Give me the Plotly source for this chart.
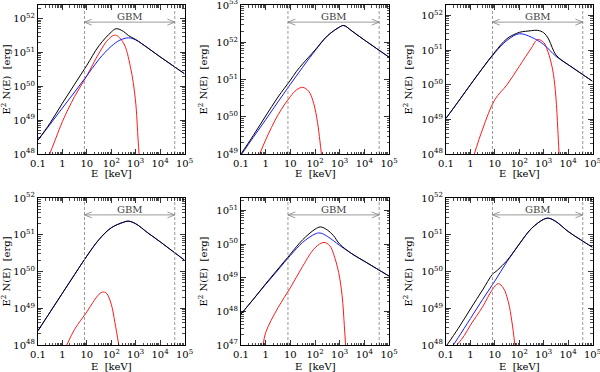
import math
import plotly.graph_objects as go

# ---------------- data (log10 E [keV], log10 E^2 N(E) [erg]) ----------------
GBM_LO = 8.0      # keV
GBM_HI = 4.0e4    # keV

X_TICKVALS = [0.1, 1, 10, 100, 1e3, 1e4, 1e5]
X_TICKTEXT = ["0.1", "1", "10", "10<sup>2</sup>", "10<sup>3</sup>", "10<sup>4</sup>", "10<sup>5</sup>"]

Y_RANGES = [(48, 52.4), (49, 53), (48, 52.3), (48, 52), (47, 51.37), (48, 52)]

# Panel 1
P1_BLUE_LOGE = [-1, -0.5, 0, 0.5, 1, 1.5, 2, 2.35, 2.7, 3, 3.5, 4, 4.5, 5]
P1_BLUE_LOGY = [48.41, 48.88, 49.36, 49.83, 50.31, 50.80, 51.18, 51.36, 51.43, 51.37, 51.13, 50.87, 50.62, 50.37]
P1_RED_LOGE = [-0.52, -0.25, 0, 0.5, 1, 1.5, 1.9, 2.17, 2.5, 2.78, 2.99, 3.1, 3.14]
P1_RED_LOGY = [48.0, 48.5, 48.96, 49.70, 50.31, 50.98, 51.40, 51.51, 51.28, 50.59, 49.6, 48.41, 48.0]
P1_BLACK_LOGE = [-1, -0.5, 0, 0.5, 1, 1.5, 2, 2.2, 2.5, 2.7, 3, 3.5, 4, 4.5, 5]
P1_BLACK_LOGY = [48.41, 48.92, 49.50, 50.06, 50.62, 51.20, 51.60, 51.70, 51.62, 51.50, 51.38, 51.13, 50.87, 50.62, 50.37]

# Panel 2
P2_BLUE_LOGE = [-1, -0.5, 0, 0.5, 1, 1.5, 2, 2.5, 3, 3.17, 3.5, 4, 4.5, 5]
P2_BLUE_LOGY = [48.97, 49.45, 49.92, 50.40, 50.87, 51.33, 51.77, 52.17, 52.41, 52.45, 52.30, 52.06, 51.83, 51.60]
P2_RED_LOGE = [-0.24, 0, 0.5, 1.0, 1.25, 1.5, 1.75, 1.95, 2.1, 2.2, 2.26]
P2_RED_LOGY = [49.0, 49.38, 50.05, 50.54, 50.72, 50.79, 50.68, 50.35, 49.85, 49.35, 49.0]
P2_BLACK_LOGE = [-1, -0.5, 0, 0.5, 1, 1.25, 1.5, 2, 2.5, 3, 3.17, 3.5, 4, 4.5, 5]
P2_BLACK_LOGY = [49.0, 49.50, 50.02, 50.53, 50.98, 51.22, 51.42, 51.79, 52.17, 52.41, 52.45, 52.30, 52.06, 51.83, 51.60]

# Panel 3
P3_BLUE_LOGE = [-1, -0.5, 0, 0.5, 1, 1.5, 2, 2.5, 3, 3.5, 4, 4.5, 5]
P3_BLUE_LOGY = [49.03, 49.51, 50.0, 50.48, 50.92, 51.28, 51.47, 51.37, 51.16, 50.82, 50.58, 50.34, 50.10]
P3_RED_LOGE = [0.16, 0.5, 1.0, 1.5, 2.0, 2.5, 2.75, 3.0, 3.15, 3.3, 3.4, 3.5, 3.58, 3.63]
P3_RED_LOGY = [48.0, 48.72, 49.57, 50.0, 50.53, 51.06, 51.30, 51.22, 51.0, 50.65, 50.3, 49.65, 48.7, 48.0]
P3_BLACK_LOGE = [-1, -0.5, 0, 0.5, 1, 1.5, 2, 2.25, 2.5, 2.75, 3.0, 3.2, 3.35, 3.5, 3.75, 4, 4.5, 5]
P3_BLACK_LOGY = [49.03, 49.51, 50.0, 50.48, 50.94, 51.33, 51.51, 51.54, 51.56, 51.57, 51.50, 51.32, 51.07, 50.86, 50.70, 50.58, 50.34, 50.10]

# Panel 4
P4_BLUE_LOGE = [-1, -0.5, 0, 0.5, 1, 1.5, 2, 2.5, 2.7, 3, 3.5, 4, 4.5, 5]
P4_BLUE_LOGY = [48.39, 48.90, 49.41, 49.92, 50.42, 50.87, 51.19, 51.34, 51.37, 51.30, 51.05, 50.81, 50.56, 50.31]
P4_RED_LOGE = [0.18, 0.5, 1.0, 1.25, 1.5, 1.65, 1.8, 2.0, 2.15, 2.31]
P4_RED_LOGY = [48.0, 48.43, 48.90, 49.16, 49.38, 49.44, 49.41, 49.11, 48.61, 48.0]
P4_BLACK_LOGE = [-1, -0.5, 0, 0.5, 1, 1.5, 2, 2.5, 2.7, 3, 3.5, 4, 4.5, 5]
P4_BLACK_LOGY = [48.39, 48.90, 49.41, 49.92, 50.42, 50.87, 51.19, 51.34, 51.37, 51.30, 51.05, 50.81, 50.56, 50.31]

# Panel 5
P5_BLUE_LOGE = [-1, -0.5, 0, 0.5, 1, 1.5, 2, 2.2, 2.5, 3, 3.5, 4, 4.5, 5]
P5_BLUE_LOGY = [47.92, 48.36, 48.80, 49.23, 49.66, 50.05, 50.30, 50.33, 50.23, 49.96, 49.71, 49.49, 49.27, 49.05]
P5_RED_LOGE = [-0.1, 0, 0.5, 1, 1.5, 2, 2.36, 2.6, 2.76, 2.96, 3.1, 3.19, 3.24]
P5_RED_LOGY = [47.0, 47.37, 48.11, 48.70, 49.34, 49.89, 50.05, 49.95, 49.69, 49.15, 48.46, 47.57, 47.0]
P5_BLACK_LOGE = [-1, -0.5, 0, 0.5, 1, 1.5, 2, 2.22, 2.5, 2.75, 3, 3.5, 4, 4.5, 5]
P5_BLACK_LOGY = [47.92, 48.36, 48.82, 49.26, 49.70, 50.13, 50.44, 50.51, 50.42, 50.25, 50.0, 49.71, 49.49, 49.27, 49.05]

# Panel 6
P6_BLUE_LOGE = [-0.7, -0.5, 0, 0.5, 1, 1.5, 2, 2.5, 3, 3.2, 3.5, 4, 4.5, 5]
P6_BLUE_LOGY = [48.0, 48.2, 48.72, 49.24, 49.74, 50.27, 50.74, 51.17, 51.42, 51.45, 51.36, 51.09, 50.87, 50.66]
P6_RED_LOGE = [-0.55, -0.25, 0, 0.5, 0.9, 1.14, 1.35, 1.55, 1.7, 1.82]
P6_RED_LOGY = [48.0, 48.26, 48.54, 49.04, 49.51, 49.67, 49.55, 49.18, 48.63, 48.0]
P6_BLACK_LOGE = [-0.96, -0.5, 0, 0.5, 0.9, 1.1, 1.3, 1.5, 1.7, 2, 2.5, 3, 3.2, 3.5, 4, 4.5, 5]
P6_BLACK_LOGY = [48.0, 48.45, 48.98, 49.50, 49.92, 50.03, 50.16, 50.30, 50.47, 50.75, 51.17, 51.42, 51.45, 51.36, 51.09, 50.87, 50.66]

PANELS = [
    (P1_RED_LOGE, P1_RED_LOGY, P1_BLUE_LOGE, P1_BLUE_LOGY, P1_BLACK_LOGE, P1_BLACK_LOGY),
    (P2_RED_LOGE, P2_RED_LOGY, P2_BLUE_LOGE, P2_BLUE_LOGY, P2_BLACK_LOGE, P2_BLACK_LOGY),
    (P3_RED_LOGE, P3_RED_LOGY, P3_BLUE_LOGE, P3_BLUE_LOGY, P3_BLACK_LOGE, P3_BLACK_LOGY),
    (P4_RED_LOGE, P4_RED_LOGY, P4_BLUE_LOGE, P4_BLUE_LOGY, P4_BLACK_LOGE, P4_BLACK_LOGY),
    (P5_RED_LOGE, P5_RED_LOGY, P5_BLUE_LOGE, P5_BLUE_LOGY, P5_BLACK_LOGE, P5_BLACK_LOGY),
    (P6_RED_LOGE, P6_RED_LOGY, P6_BLUE_LOGE, P6_BLUE_LOGY, P6_BLACK_LOGE, P6_BLACK_LOGY),
]

# ---------------- layout geometry ----------------
W, H = 600, 372
COL_PX = [(38, 184.5), (241, 389), (446, 592.5)]
ROW_PX = [(5, 154), (198, 345)]
XTITLE_SHIFT = [-19, -21]

FONT = "DejaVu Serif"
fig = go.Figure()


def tp(v):
    return [10.0 ** float(a) for a in v]


minor_x = [float(k) * 10.0 ** n for n in range(-1, 5) for k in range(2, 10)]

for i, (rx, ry, bx, by, kx, ky) in enumerate(PANELS):
    n = i + 1
    xa = "x" if n == 1 else f"x{n}"
    ya = "y" if n == 1 else f"y{n}"
    lo, hi = Y_RANGES[i]
    r, c = divmod(i, 3)
    for ex, ey, col, w in [(rx, ry, "#ff1a1a", 1.0), (bx, by, "#1a1aff", 1.0), (kx, ky, "black", 1.0)]:
        fig.add_trace(go.Scatter(x=tp(ex), y=tp(ey), mode="lines",
                                 line=dict(color=col, width=w, shape="spline", smoothing=1.0),
                                 xaxis=xa, yaxis=ya, showlegend=False, hoverinfo="skip"))
    # GBM window dashed lines
    for xv in (GBM_LO, GBM_HI):
        fig.add_trace(go.Scatter(x=[xv, xv], y=[10.0 ** lo, 10.0 ** hi], mode="lines",
                                 line=dict(color="#808080", width=0.8, dash="3px,2px"),
                                 xaxis=xa, yaxis=ya, showlegend=False, hoverinfo="skip"))
    # GBM arrow
    frac = 0.885
    yl = lo + frac * (hi - lo)
    dy = 0.02 * (hi - lo)
    dx = 0.3
    l0 = math.log10(GBM_LO)
    h0 = math.log10(GBM_HI)
    fig.add_trace(go.Scatter(x=[GBM_LO, GBM_HI], y=[10.0 ** yl, 10.0 ** yl], mode="lines",
                             line=dict(color="#808080", width=0.8),
                             xaxis=xa, yaxis=ya, showlegend=False, hoverinfo="skip"))
    fig.add_trace(go.Scatter(x=[10.0 ** (l0 + dx), GBM_LO, 10.0 ** (l0 + dx)],
                             y=[10.0 ** (yl + dy), 10.0 ** yl, 10.0 ** (yl - dy)], mode="lines",
                             line=dict(color="#808080", width=0.8),
                             xaxis=xa, yaxis=ya, showlegend=False, hoverinfo="skip"))
    fig.add_trace(go.Scatter(x=[10.0 ** (h0 - dx), GBM_HI, 10.0 ** (h0 - dx)],
                             y=[10.0 ** (yl + dy), 10.0 ** yl, 10.0 ** (yl - dy)], mode="lines",
                             line=dict(color="#808080", width=0.8),
                             xaxis=xa, yaxis=ya, showlegend=False, hoverinfo="skip"))
    fig.add_annotation(x=(l0 + h0) / 2, y=frac, xref=xa, yref=f"{ya} domain",
                       yanchor="bottom", yshift=-2,
                       text="GBM", showarrow=False,
                       font=dict(family=FONT, size=10, color="#444"))
    # x-axis title
    fig.add_annotation(x=0.5, y=0, xref=f"{xa} domain", yref=f"{ya} domain",
                       yanchor="middle", yshift=XTITLE_SHIFT[r],
                       text="E  [keV]", showarrow=False,
                       font=dict(family=FONT, size=10, color="black"))

    x0, x1 = COL_PX[c]
    y0, y1 = ROW_PX[r]
    common = dict(showline=True, linecolor="black", linewidth=1, mirror="allticks",
                  ticks="inside", ticklen=5, tickwidth=0.8, tickcolor="black",
                  showgrid=False, zeroline=False, automargin=False,
                  ticklabeloverflow="allow",
                  tickfont=dict(family=FONT, size=10, color="black"))
    xaxis = dict(common, type="log", range=[-1, 5], domain=[x0 / W, x1 / W], anchor=ya,
                 tickmode="array", tickvals=X_TICKVALS, ticktext=X_TICKTEXT,
                 minor=dict(tickmode="array", tickvals=minor_x, ticks="inside", ticklen=2.5,
                            tickwidth=0.7, tickcolor="black", showgrid=False))
    dec = list(range(math.ceil(lo), math.floor(hi) + 1))
    minor_y = [float(k) * 10.0 ** d for d in range(math.floor(lo), math.ceil(hi)) for k in range(2, 10)]
    yaxis = dict(common, type="log", range=[lo, hi], domain=[1 - y1 / H, 1 - y0 / H], anchor=xa,
                 tickmode="array", tickvals=[10.0 ** d for d in dec],
                 ticktext=[f"10<sup>{d}</sup>" for d in dec],
                 minor=dict(tickmode="array", tickvals=minor_y, ticks="inside", ticklen=2.5,
                            tickwidth=0.7, tickcolor="black", showgrid=False),
                 title=dict(text="E<sup>2</sup> N(E)  [erg]", font=dict(family=FONT, size=10, color="black"), standoff=6))
    fig.update_layout(**{("xaxis" if n == 1 else f"xaxis{n}"): xaxis,
                         ("yaxis" if n == 1 else f"yaxis{n}"): yaxis})

fig.update_layout(width=W, height=H, margin=dict(l=0, r=0, t=0, b=0),
                  paper_bgcolor="white", plot_bgcolor="white", showlegend=False)
fig.write_html("out.html", config={"displayModeBar": False, "staticPlot": True},
               post_script="document.body.style.margin='0';document.body.style.padding='0';document.body.style.overflow='hidden';")
